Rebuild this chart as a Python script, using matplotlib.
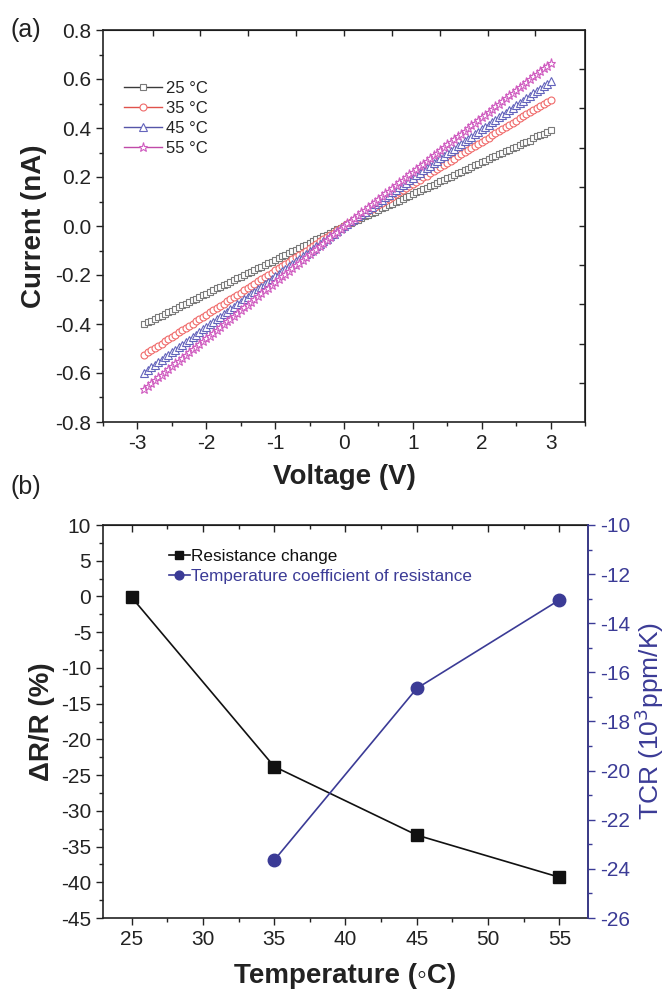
import numpy as np
import matplotlib
matplotlib.use("Agg")
import matplotlib.pyplot as plt
from matplotlib.ticker import MultipleLocator, FixedLocator, FormatStrFormatter

plt.rcParams['font.family'] = ['Liberation Sans', 'DejaVu Sans']
plt.rcParams['axes.unicode_minus'] = False

# ---------------- data (a): I-V sweep, -2.9 V ... 3.0 V in 0.05 V steps ----------------
voltage = [round(-2.9 + 0.05 * k, 2) for k in range(119)]

i_25 = [-0.400, -0.393, -0.386, -0.380, -0.373, -0.366, -0.359, -0.352, -0.345, -0.338,
        -0.331, -0.324, -0.318, -0.311, -0.304, -0.297, -0.290, -0.283, -0.276, -0.269,
        -0.262, -0.255, -0.248, -0.242, -0.235, -0.228, -0.221, -0.214, -0.207, -0.200,
        -0.193, -0.186, -0.179, -0.173, -0.166, -0.159, -0.152, -0.145, -0.138, -0.131,
        -0.124, -0.117, -0.110, -0.104, -0.097, -0.090, -0.083, -0.076, -0.069, -0.062,
        -0.055, -0.048, -0.041, -0.035, -0.028, -0.021, -0.014, -0.007, 0.000,
        0.007, 0.013, 0.020, 0.026, 0.033, 0.039, 0.046, 0.052, 0.059, 0.065,
        0.072, 0.078, 0.085, 0.091, 0.098, 0.104, 0.111, 0.117, 0.124, 0.130,
        0.137, 0.143, 0.150, 0.156, 0.163, 0.169, 0.176, 0.182, 0.189, 0.195,
        0.202, 0.208, 0.215, 0.221, 0.228, 0.234, 0.241, 0.247, 0.254, 0.260,
        0.267, 0.273, 0.280, 0.286, 0.293, 0.299, 0.306, 0.312, 0.319, 0.322,
        0.332, 0.338, 0.341, 0.345, 0.358, 0.366, 0.370, 0.377, 0.384, 0.390]

i_35 = [-0.525, -0.516, -0.507, -0.498, -0.489, -0.480, -0.471, -0.462, -0.453, -0.443,
        -0.434, -0.425, -0.416, -0.407, -0.398, -0.389, -0.380, -0.371, -0.362, -0.353,
        -0.344, -0.335, -0.326, -0.317, -0.308, -0.299, -0.290, -0.281, -0.272, -0.262,
        -0.253, -0.244, -0.235, -0.226, -0.217, -0.208, -0.199, -0.190, -0.181, -0.172,
        -0.163, -0.154, -0.145, -0.136, -0.127, -0.118, -0.109, -0.100, -0.091, -0.081,
        -0.072, -0.063, -0.054, -0.045, -0.036, -0.027, -0.018, -0.009, 0.000,
        0.009, 0.017, 0.026, 0.034, 0.043, 0.052, 0.060, 0.069, 0.077, 0.086,
        0.095, 0.103, 0.112, 0.120, 0.129, 0.138, 0.146, 0.155, 0.163, 0.172,
        0.181, 0.189, 0.198, 0.206, 0.215, 0.224, 0.232, 0.241, 0.249, 0.258,
        0.267, 0.275, 0.284, 0.292, 0.301, 0.310, 0.318, 0.327, 0.335, 0.344,
        0.353, 0.361, 0.370, 0.378, 0.387, 0.396, 0.404, 0.413, 0.421, 0.430,
        0.439, 0.447, 0.456, 0.464, 0.473, 0.482, 0.490, 0.499, 0.507, 0.516]

i_45 = [-0.598, -0.587, -0.577, -0.567, -0.556, -0.546, -0.536, -0.525, -0.515, -0.505,
        -0.494, -0.484, -0.474, -0.464, -0.453, -0.443, -0.433, -0.422, -0.412, -0.402,
        -0.391, -0.381, -0.371, -0.361, -0.350, -0.340, -0.330, -0.319, -0.309, -0.299,
        -0.288, -0.278, -0.268, -0.258, -0.247, -0.237, -0.227, -0.216, -0.206, -0.196,
        -0.185, -0.175, -0.165, -0.155, -0.144, -0.134, -0.124, -0.113, -0.103, -0.093,
        -0.082, -0.072, -0.062, -0.052, -0.041, -0.031, -0.021, -0.010, 0.000,
        0.010, 0.020, 0.030, 0.039, 0.049, 0.059, 0.069, 0.079, 0.089, 0.099,
        0.108, 0.118, 0.128, 0.138, 0.148, 0.158, 0.167, 0.177, 0.187, 0.197,
        0.207, 0.217, 0.227, 0.236, 0.246, 0.256, 0.266, 0.276, 0.286, 0.296,
        0.305, 0.315, 0.325, 0.335, 0.345, 0.355, 0.364, 0.374, 0.384, 0.394,
        0.404, 0.414, 0.424, 0.433, 0.443, 0.453, 0.463, 0.473, 0.483, 0.493,
        0.502, 0.512, 0.522, 0.532, 0.542, 0.552, 0.561, 0.571, 0.581, 0.591]

i_55 = [-0.665, -0.653, -0.641, -0.630, -0.618, -0.607, -0.595, -0.584, -0.573, -0.561,
        -0.550, -0.538, -0.527, -0.515, -0.504, -0.492, -0.481, -0.469, -0.458, -0.447,
        -0.435, -0.424, -0.412, -0.401, -0.389, -0.378, -0.366, -0.355, -0.344, -0.332,
        -0.321, -0.309, -0.298, -0.286, -0.275, -0.263, -0.252, -0.240, -0.229, -0.218,
        -0.206, -0.195, -0.183, -0.172, -0.160, -0.149, -0.137, -0.126, -0.115, -0.103,
        -0.092, -0.080, -0.069, -0.057, -0.046, -0.034, -0.023, -0.011, 0.000,
        0.011, 0.022, 0.033, 0.044, 0.056, 0.067, 0.078, 0.089, 0.100, 0.111,
        0.122, 0.133, 0.144, 0.155, 0.167, 0.178, 0.189, 0.200, 0.211, 0.222,
        0.233, 0.244, 0.255, 0.266, 0.278, 0.289, 0.300, 0.311, 0.322, 0.333,
        0.344, 0.355, 0.366, 0.377, 0.389, 0.400, 0.411, 0.422, 0.433, 0.444,
        0.455, 0.466, 0.477, 0.488, 0.500, 0.511, 0.522, 0.533, 0.544, 0.555,
        0.566, 0.577, 0.588, 0.599, 0.611, 0.622, 0.633, 0.644, 0.655, 0.666]

iv_labels = ['25 \u00b0C', '35 \u00b0C', '45 \u00b0C', '55 \u00b0C']

# ---------------- data (b) ----------------
temperature = [25, 35, 45, 55]
resistance_change = [-0.1, -23.8, -33.4, -39.3]
tcr_temperature = [35, 45, 55]
tcr_values = [-23.65, -16.65, -13.05]

# ---------------- figure ----------------
fig = plt.figure(figsize=(6.70, 9.94), dpi=100)
W, H = 670, 994

def rect(l, t, r, b):
    return [l / W, 1 - b / H, (r - l) / W, (b - t) / H]

axA = fig.add_axes(rect(103, 30, 585, 422))
axB = fig.add_axes(rect(103, 525, 588, 918))

TICK_FS = 15
LABEL_FS = 20
ink = '#222222'

# ---- panel (a) ----
series = [
    (i_25, 's', '#3a3a3a', '#7a7a7a', 5),
    (i_35, 'o', '#e0524c', '#f06a6a', 5),
    (i_45, '^', '#5555a8', '#6464bc', 5.5),
    (i_55, '*', '#c04aa8', '#d05cc0', 6.5),
]
for (vals, mk, lc, mc, ms), lab in zip(series, iv_labels):
    axA.plot(voltage, vals, color=lc, lw=1.0, marker=mk, ms=ms,
             mfc='white', mec=mc, mew=0.8, label=lab)

axA.set_xlim(-3.5, 3.5)
axA.set_ylim(-0.8, 0.8)
axA.xaxis.set_major_locator(MultipleLocator(1))
axA.xaxis.set_minor_locator(MultipleLocator(0.5))
axA.yaxis.set_major_locator(MultipleLocator(0.2))
axA.yaxis.set_minor_locator(MultipleLocator(0.1))
axA.yaxis.set_major_formatter(FormatStrFormatter('%.1f'))
axA.tick_params(which='major', direction='out', length=5, width=1.0, labelsize=TICK_FS, colors=ink)
axA.tick_params(which='minor', direction='out', length=3, width=1.0, colors=ink)
for sp in axA.spines.values():
    sp.set_linewidth(1.2)
    sp.set_color(ink)

topA = axA.secondary_xaxis('top')
topA.xaxis.set_major_locator(FixedLocator([-2.78, -2.09, -1.39, -0.70, 0.0, 0.70, 1.39, 2.09, 2.78]))
topA.tick_params(direction='in', length=4, width=1.0, labeltop=False, colors=ink)
rightA = axA.secondary_yaxis('right')
rightA.yaxis.set_major_locator(FixedLocator([-0.64, -0.48, -0.32, -0.16, 0.0, 0.16, 0.32, 0.48, 0.64]))
rightA.tick_params(direction='in', length=4, width=1.0, labelright=False, colors=ink)

axA.set_xlabel('Voltage (V)', fontsize=LABEL_FS, fontweight='bold', labelpad=8, color=ink)
axA.set_ylabel('Current (nA)', fontsize=LABEL_FS, fontweight='bold', labelpad=6, color=ink)

axA.legend(loc='upper left', bbox_to_anchor=(0.022, 0.895), frameon=False, fontsize=12,
           handlelength=2.3, handletextpad=0.25, labelspacing=0.3, borderaxespad=0.2,
           labelcolor=ink)

fig.text(10 / W, 1 - 30 / H, '(a)', fontsize=18, va='center', ha='left', color=ink)
fig.text(10 / W, 1 - 487 / H, '(b)', fontsize=18, va='center', ha='left', color=ink)

# ---- panel (b) ----
blue = '#3b3b96'
l1, = axB.plot(temperature, resistance_change, color='#111111', lw=1.2, marker='s', ms=9,
               mfc='#111111', mec='#111111', label='Resistance change')
axB.set_xlim(23, 57)
axB.set_ylim(-45, 10)
axB.xaxis.set_major_locator(MultipleLocator(5))
axB.xaxis.set_minor_locator(MultipleLocator(2.5))
axB.yaxis.set_major_locator(MultipleLocator(5))
axB.yaxis.set_minor_locator(MultipleLocator(2.5))
axB.tick_params(which='major', direction='out', length=5, width=1.0, labelsize=TICK_FS, colors=ink)
axB.tick_params(which='minor', direction='out', length=3, width=1.0, colors=ink)
for sp in axB.spines.values():
    sp.set_linewidth(1.2)
    sp.set_color(ink)

topB = axB.secondary_xaxis('top')
topB.xaxis.set_major_locator(MultipleLocator(5))
topB.xaxis.set_minor_locator(MultipleLocator(2.5))
topB.tick_params(which='major', direction='in', length=5, width=1.0, labeltop=False, colors=ink)
topB.tick_params(which='minor', direction='in', length=3, width=1.0, colors=ink)

axR = axB.twinx()
l2, = axR.plot(tcr_temperature, tcr_values, color=blue, lw=1.2, marker='o', ms=9,
               mfc=blue, mec=blue, label='Temperature coefficient of resistance')
axR.set_ylim(-26, -10)
axR.yaxis.set_major_locator(MultipleLocator(2))
axR.yaxis.set_minor_locator(MultipleLocator(1))
axR.tick_params(which='major', direction='out', length=5, width=1.0, labelsize=TICK_FS, colors=blue)
axR.tick_params(which='minor', direction='out', length=3, width=1.0, colors=blue)
axR.spines['right'].set_color(blue)
axR.spines['right'].set_linewidth(1.2)
for s in ['left', 'top', 'bottom']:
    axR.spines[s].set_visible(False)

axB.set_xlabel('Temperature (\u25e6C)', fontsize=LABEL_FS, fontweight='bold', labelpad=10, color=ink)
axB.set_ylabel('\u0394R/R (%)', fontsize=LABEL_FS, fontweight='bold', labelpad=4, color=ink)
axR.set_ylabel('TCR (10$^{3}$ppm/K)', fontsize=19, color=blue, labelpad=2)

leg = axB.legend([l1, l2], ['Resistance change', 'Temperature coefficient of resistance'],
                 loc='upper left', bbox_to_anchor=(0.115, 0.965), frameon=False, fontsize=12.3,
                 handlelength=1.2, handletextpad=0.1, labelspacing=0.3, borderaxespad=0.2,
                 markerscale=0.7)
leg.get_texts()[0].set_color('#111111')
leg.get_texts()[1].set_color(blue)

fig.savefig('out.png', dpi=100)
